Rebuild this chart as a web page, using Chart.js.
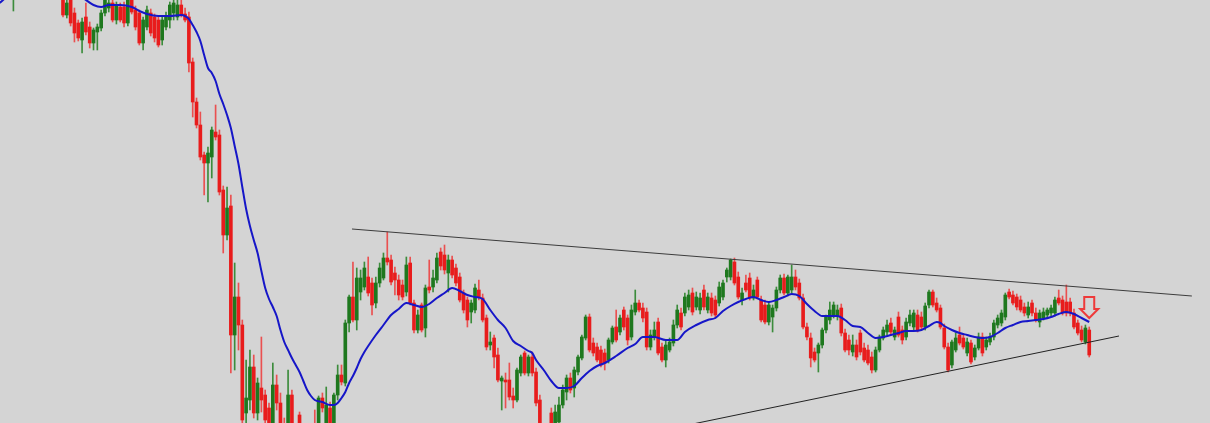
<!DOCTYPE html>
<html>
<head>
<meta charset="utf-8">
<script src="https://cdn.jsdelivr.net/npm/chart.js@4.4.1/dist/chart.umd.min.js"></script>
<style>
html,body{margin:0;padding:0;background:#d4d4d4;overflow:hidden;}
canvas{display:block;}
</style>
</head>
<body>
<canvas id="c" width="1210" height="423" style="width:1210px;height:423px"></canvas>
<script>
// ---- data (candle index -> OHLC values) ----
const firstIndex = -13;
const open = [433, null,null,null,null,null,null,null,null,null,null,null,null,
426,408,423,410,400,383,406,396,380,391,
395,410,415,420,403,416,416,400,425,413,
410,380,396,410,406,403,383,396,403,410,
406,418,409,406,361,321,298,268,260,266,
291,288,233,188,217,88,126,98,10,23,
56,10,35,28,15,-7,38,20,-5,-9,
28,-17,8,-12,-22,-9,-5,-12,25,-7,
15,-7,28,48,40,100,126,103,131,136,
146,140,120,140,145,165,163,150,143,138,
131,160,120,93,118,95,136,136,143,171,
168,150,163,155,146,130,123,111,113,133,
125,105,78,85,68,42,43,43,27,23,
50,70,50,66,51,23,-9,-27,10,-12,
1,18,31,45,35,51,65,85,106,80,
76,73,70,63,81,96,91,113,105,86,
111,120,115,111,76,86,101,76,63,73,
80,98,110,110,116,130,116,113,133,113,
125,123,120,126,146,146,161,146,123,140,
145,125,143,123,118,101,106,115,133,145,
130,133,146,140,125,96,85,71,70,78,
93,103,108,107,115,90,83,71,78,90,
75,73,66,53,73,85,91,100,86,106,
93,86,100,96,108,106,96,118,131,120,
115,95,76,58,73,88,85,70,80,66,
75,86,76,81,86,98,100,106,131,128,
126,123,116,108,120,110,101,105,108,110,
110,125,123,121,121,110,100,93,81,93];
const high = [453, null,null,null,null,null,null,null,null,null,null,null,null,
431,425,427,415,403,405,420,401,395,399,
413,427,425,425,421,420,421,427,429,417,
413,406,417,414,409,407,406,411,421,425,
423,423,415,411,365,325,311,271,276,296,
318,293,237,236,228,160,140,103,63,73,
68,45,86,33,20,60,48,30,5,53,
33,-5,11,-5,-7,-2,13,27,30,36,
21,30,58,58,103,128,161,155,153,161,
166,145,146,160,170,191,168,156,148,143,
166,166,123,113,120,138,163,153,170,175,
178,168,167,159,150,133,126,123,139,143,
129,108,91,88,75,47,50,60,35,55,
68,72,68,71,55,28,-3,-7,15,18,
26,38,48,50,56,68,88,108,109,85,
80,77,74,85,97,113,108,116,108,118,
133,123,120,115,93,101,105,80,83,85,
103,118,115,130,133,135,131,130,138,130,
130,127,141,143,155,164,165,151,135,148,
150,138,146,127,123,121,118,136,148,149,
148,158,153,144,129,100,90,75,80,95,
108,121,121,118,119,94,88,88,83,93,
80,78,71,76,88,96,103,105,96,111,
97,105,113,113,113,111,120,133,133,125,
118,99,80,83,90,96,89,85,83,78,
90,90,86,90,103,108,113,130,134,132,
129,127,120,121,123,115,113,115,115,118,
126,133,127,138,125,114,103,97,98,96];
const low = [412, null,null,null,null,null,null,null,null,null,null,null,null,
406,405,397,381,382,370,388,375,373,373,
392,407,411,401,399,401,396,397,409,393,
378,373,393,387,381,376,378,393,395,403,
403,406,401,351,306,295,263,228,221,245,
283,228,170,183,50,53,73,-9,-2,13,
5,3,11,-7,-17,-17,13,-17,-22,-17,
-22,-27,-22,-32,-32,-27,-22,-17,11,-17,
-17,-17,23,38,37,91,101,93,123,133,
127,108,115,136,143,158,138,128,123,123,
127,118,90,90,91,86,130,131,140,153,
149,131,145,137,121,110,96,100,110,123,
101,73,73,55,41,13,15,23,15,21,
47,48,47,47,17,-17,-32,-37,-17,-17,
-2,15,23,30,26,48,63,83,71,67,
61,56,53,60,79,81,88,93,78,83,
108,111,101,73,73,83,68,61,56,71,
77,95,93,107,113,108,113,109,113,110,
107,105,117,123,141,143,138,124,118,131,
123,123,124,101,99,98,91,112,130,128,
127,130,133,123,94,83,56,61,51,75,
90,99,105,103,87,71,68,67,63,68,
61,58,50,51,71,83,88,88,83,86,
79,83,97,93,91,93,93,115,116,111,
94,74,51,55,71,78,74,67,59,63,
73,67,73,78,83,95,97,103,124,118,
113,111,107,105,107,101,96,103,105,107,
107,118,108,107,107,94,88,81,79,66];
const close = [443, null,null,null,null,null,null,null,null,null,null,null,null,
408,420,400,390,385,401,391,380,393,396,
410,423,420,403,418,403,400,423,411,396,
380,403,413,390,385,378,403,406,418,420,
418,408,403,360,321,298,266,260,270,293,
286,231,188,215,88,126,98,3,25,56,
10,40,23,3,-7,38,20,-7,-15,28,
-7,-9,-12,-17,-9,-17,-15,25,15,18,
-7,28,48,41,100,126,103,145,145,155,
130,118,140,155,165,161,141,143,128,126,
158,120,93,108,93,135,133,145,165,157,
153,163,148,140,123,113,103,120,135,126,
103,76,81,66,43,45,41,26,23,53,
66,50,66,50,20,-7,-22,-12,-7,11,
18,33,45,33,53,66,86,106,73,70,
63,58,60,83,95,83,105,96,83,113,
120,113,105,76,88,93,70,63,78,81,
98,113,96,126,128,111,126,125,116,126,
110,108,136,140,153,163,140,126,130,133,
125,133,126,103,101,118,115,133,145,130,
146,146,136,125,96,86,65,63,78,93,
106,113,118,113,90,73,73,78,66,71,
63,60,53,73,86,93,98,91,93,88,
83,101,108,110,93,96,117,131,118,113,
96,76,53,81,85,80,76,81,61,75,
86,70,83,86,100,105,110,128,126,120,
116,113,110,116,110,103,110,111,113,115,
123,120,110,110,110,96,90,83,95,68];

// moving average (candle index -> value)
const maIndex = [-17,-16,-14,-10,-5,0,3,5,6,8,
10,12,15,18,20,22,25,28,31,32,
33,34,35,36,37,38,39,40,41,42,
43,44,45,46,47,48,49,50,51,52,
53,54,55,56,57,58,59,60,61,62,
63,64,65,66,68,70,71,72,73,74,
75,76,77,78,79,80,82,84,86,88,
90,92,94,96,98,100,102,104,106,108,
110,112,114,116,118,120,122,123,124,126,
128,130,132,134,136,138,140,142,145,148,
150,152,155,158,161,163,166,169,171,173,
175,177,179,181,183,185,187,189,191,193,
195,197,199,201,203,205,207,209,211,213,
215,217,219,221,223,225,227,229,230,231,
233,235,237,239,241,243,245,247,249,251,
253,255,257,259,261,263,265,267,269];
const maValue = [419,422,429,437,439,435,430,426,423,418,
416,418,418,416,412,409,407,407,408,407,
404,398,391,382,368,355,350,342,329,319,
308,295,277,259,236,214,197,183,170,152,
135,124,116,107,93,81,73,65,58,51,
42,33,27,23,21,18,18,20,25,31,
40,47,55,64,71,77,88,98,108,114,
120,118,116,119,125,130,135,132,128,126,
124,113,103,95,82,77,72,70,63,53,
42,35,35,37,45,52,57,60,67,75,
79,86,86,83,83,91,98,103,105,112,
117,121,124,126,123,121,123,126,129,127,
119,112,107,107,107,103,97,96,90,85,
86,88,90,92,92,93,97,101,100,97,
93,90,88,86,85,86,90,95,98,101,
102,103,104,106,109,111,109,105,101];

// trend lines (candle index, value)
const upperTrendX = [75.75, 295.9];
const upperTrendY = [194, 127];
const lowerTrendX = [160, 276.8];
const lowerTrendY = [-5, 87];

// signal arrow tip (candle index, value)
const signalIndex = 269;
const signalValue = 105;

// ---- build datasets ----
const RED = '#e81c1c', RED_W = '#ea5050';
const GREEN = '#1e781e', GREEN_W = '#3c8c3c';
const wickData = [], bodyData = [], wickCol = [], bodyCol = [];
for (let k = 0; k < open.length; k++) {
  if (open[k] === null) continue;
  const i = firstIndex + k;
  const up = close[k] >= open[k];
  wickData.push({x: i, y: [low[k], high[k]]});
  bodyData.push({x: i, y: [open[k], close[k]]});
  wickCol.push(up ? GREEN_W : RED_W);
  bodyCol.push(up ? GREEN : RED);
}
const maData = maIndex.map((x, k) => ({x: x, y: maValue[k]}));
const upData = upperTrendX.map((x, k) => ({x: x, y: upperTrendY[k]}));
const loData = lowerTrendX.map((x, k) => ({x: x, y: lowerTrendY[k]}));

const bgPlugin = {
  id: 'bg',
  beforeDraw(chart) {
    const c = chart.ctx;
    c.save();
    c.fillStyle = '#d4d4d4';
    c.fillRect(0, 0, chart.width, chart.height);
    c.restore();
  }
};
const arrowPlugin = {
  id: 'arrow',
  afterDatasetsDraw(chart) {
    const c = chart.ctx;
    const px = chart.scales.x.getPixelForValue(signalIndex);
    const py = chart.scales.y.getPixelForValue(signalValue);
    c.save();
    c.beginPath();
    c.moveTo(px - 5, py - 21);
    c.lineTo(px + 5, py - 21);
    c.lineTo(px + 5, py - 9);
    c.lineTo(px + 9, py - 9);
    c.lineTo(px, py);
    c.lineTo(px - 9, py - 9);
    c.lineTo(px - 5, py - 9);
    c.closePath();
    c.strokeStyle = '#ee3a3a';
    c.lineWidth = 2;
    c.lineJoin = 'miter';
    c.stroke();
    c.restore();
  }
};

new Chart(document.getElementById('c'), {
  type: 'bar',
  data: {
    datasets: [
      {type: 'bar', data: wickData, backgroundColor: wickCol, barThickness: 1, grouped: false, order: 4, borderWidth: 0},
      {type: 'bar', data: bodyData, backgroundColor: bodyCol, barThickness: 3, grouped: false, order: 3, borderWidth: 0},
      {type: 'line', data: maData, borderColor: '#1616c8', borderWidth: 2, pointRadius: 0, fill: false, cubicInterpolationMode: 'monotone', order: 2},
      {type: 'line', data: upData, borderColor: '#3c3c3c', borderWidth: 1, pointRadius: 0, fill: false, order: 1},
      {type: 'line', data: loData, borderColor: '#222222', borderWidth: 1, pointRadius: 0, fill: false, order: 1}
    ]
  },
  options: {
    responsive: false,
    animation: false,
    devicePixelRatio: 1,
    layout: {padding: 0},
    plugins: {legend: {display: false}, tooltip: {enabled: false}},
    scales: {
      x: {type: 'linear', min: -16.514, max: 300.655, offset: false, bounds: 'data', display: false},
      y: {type: 'linear', min: 0, max: 423, bounds: 'data', display: false}
    }
  },
  plugins: [bgPlugin, arrowPlugin]
});
</script>
</body>
</html>
